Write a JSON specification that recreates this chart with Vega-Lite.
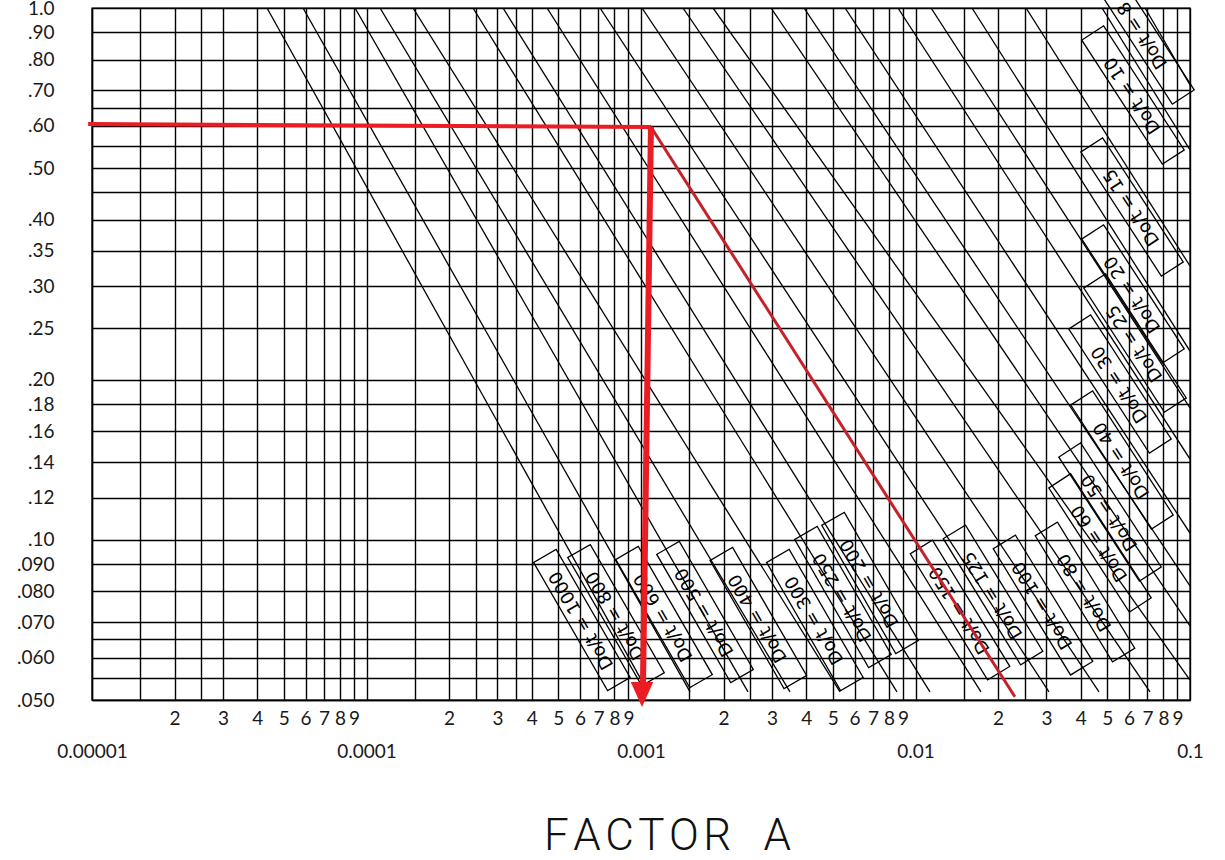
{
  "$schema": "https://vega.github.io/schema/vega-lite/v6.json",
  "width": 1098,
  "height": 692,
  "autosize": {"type": "none"},
  "padding": {"left": 92, "top": 8, "right": 35, "bottom": 160},
  "background": "white",
  "config": {"view": {"stroke": "black", "strokeWidth": 1.4}},
  "datasets": {
    "curves": [
      {"dt": "1000", "A": 4.34e-5, "LD": 1.0}, {"dt": "1000", "A": 1.060e-3, "LD": 0.0518},
      {"dt": "800", "A": 5.87e-5, "LD": 1.0}, {"dt": "800", "A": 1.509e-3, "LD": 0.0518},
      {"dt": "600", "A": 9.08e-5, "LD": 1.0}, {"dt": "600", "A": 2.453e-3, "LD": 0.0518},
      {"dt": "500", "A": 1.12e-4, "LD": 1.0}, {"dt": "500", "A": 3.489e-3, "LD": 0.0518},
      {"dt": "400", "A": 1.477e-4, "LD": 1.0}, {"dt": "400", "A": 5.309e-3, "LD": 0.0518},
      {"dt": "300", "A": 2.443e-4, "LD": 1.0}, {"dt": "300", "A": 8.56e-3, "LD": 0.0518},
      {"dt": "250", "A": 3.143e-4, "LD": 1.0}, {"dt": "250", "A": 0.01129, "LD": 0.0518},
      {"dt": "200", "A": 4.546e-4, "LD": 1.0}, {"dt": "200", "A": 0.01732, "LD": 0.0518},
      {"dt": "150", "A": 7.09e-4, "LD": 1.0}, {"dt": "150", "A": 0.03064, "LD": 0.0518},
      {"dt": "125", "A": 1.0083e-3, "LD": 1.0}, {"dt": "125", "A": 0.04661, "LD": 0.0518},
      {"dt": "100", "A": 1.422e-3, "LD": 1.0}, {"dt": "100", "A": 0.0715, "LD": 0.0518},
      {"dt": "80", "A": 1.830e-3, "LD": 1.0}, {"dt": "80", "A": 0.1, "LD": 0.0545},
      {"dt": "60", "A": 2.976e-3, "LD": 1.0}, {"dt": "60", "A": 0.1, "LD": 0.0689},
      {"dt": "50", "A": 3.925e-3, "LD": 1.0}, {"dt": "50", "A": 0.1, "LD": 0.0819},
      {"dt": "40", "A": 5.537e-3, "LD": 1.0}, {"dt": "40", "A": 0.1, "LD": 0.103},
      {"dt": "30", "A": 8.63e-3, "LD": 1.0}, {"dt": "30", "A": 0.1, "LD": 0.1419},
      {"dt": "25", "A": 0.01139, "LD": 1.0}, {"dt": "25", "A": 0.1, "LD": 0.177},
      {"dt": "20", "A": 0.01606, "LD": 1.0}, {"dt": "20", "A": 0.1, "LD": 0.2265},
      {"dt": "15", "A": 0.02527, "LD": 1.0}, {"dt": "15", "A": 0.1, "LD": 0.3273},
      {"dt": "10", "A": 0.04779, "LD": 1.0}, {"dt": "10", "A": 0.1, "LD": 0.5408},
      {"dt": "8", "A": 0.06858, "LD": 1.0}, {"dt": "8", "A": 0.1, "LD": 0.7166}
    ],
    "labels": [
      {"label": "Do/t = 1000", "g": "b", "A": 6.09e-4, "LD": 0.0707},
      {"label": "Do/t = 800", "g": "b", "A": 8.11e-4, "LD": 0.0722},
      {"label": "Do/t = 600", "g": "b", "A": 1.213e-3, "LD": 0.0716},
      {"label": "Do/t = 500", "g": "b", "A": 1.711e-3, "LD": 0.0732},
      {"label": "Do/t = 400", "g": "b", "A": 2.675e-3, "LD": 0.0713},
      {"label": "Do/t = 300", "g": "b", "A": 4.30e-3, "LD": 0.0707},
      {"label": "Do/t = 250", "g": "b", "A": 5.44e-3, "LD": 0.0781},
      {"label": "Do/t = 200", "g": "b", "A": 6.83e-3, "LD": 0.083},
      {"label": "Do/t = 150", "g": "m", "A": 0.01453, "LD": 0.0738},
      {"label": "Do/t = 125", "g": "m", "A": 0.01916, "LD": 0.0788},
      {"label": "Do/t = 100", "g": "m", "A": 0.02914, "LD": 0.0754},
      {"label": "Do/t = 80", "g": "m", "A": 0.04145, "LD": 0.0798},
      {"label": "Do/t = 60", "g": "r", "A": 0.047, "LD": 0.0987},
      {"label": "Do/t = 50", "g": "r", "A": 0.05112, "LD": 0.1128},
      {"label": "Do/t = 40", "g": "r", "A": 0.05653, "LD": 0.1413},
      {"label": "Do/t = 30", "g": "r", "A": 0.05559, "LD": 0.1964},
      {"label": "Do/t = 25", "g": "r", "A": 0.06305, "LD": 0.2345},
      {"label": "Do/t = 20", "g": "r", "A": 0.06199, "LD": 0.29},
      {"label": "Do/t = 15", "g": "r", "A": 0.06148, "LD": 0.4225},
      {"label": "Do/t = 10", "g": "r", "A": 0.06199, "LD": 0.686},
      {"label": "Do/t = 8", "g": "r", "A": 0.0674, "LD": 0.89}
    ],
    "redH": [{"A": 9.68e-6, "LD": 0.605}, {"A": 1.087e-3, "LD": 0.5975}],
    "redV": [{"A": 1.087e-3, "LD": 0.5975}, {"A": 1.0169e-3, "LD": 0.0534}],
    "redD": [{"A": 1.087e-3, "LD": 0.5975}, {"A": 0.02302, "LD": 0.0507}],
    "arrow": [{"A": 1.0084e-3, "LD": 0.0512}]
  },
  "encoding": {
    "x": {
      "field": "A", "type": "quantitative",
      "scale": {"type": "log", "domain": [0.00001, 0.1], "nice": false},
      "axis": {
        "values": [0.00001, 1.5e-5, 2e-5, 2.5e-5, 3e-5, 4e-5, 5e-5, 6e-5, 7e-5, 8e-5, 9e-5,
                   0.0001, 1.5e-4, 2e-4, 2.5e-4, 3e-4, 3.5e-4, 4e-4, 5e-4, 6e-4, 7e-4, 8e-4, 9e-4,
                   0.001, 1.5e-3, 2e-3, 2.5e-3, 3e-3, 4e-3, 5e-3, 6e-3, 7e-3, 8e-3, 9e-3,
                   0.01, 0.015, 0.02, 0.025, 0.03, 0.04, 0.05, 0.06, 0.07, 0.08, 0.09, 0.1],
        "labelExpr": "format(datum.value,'.1e')=='1.0e-5' ? ['','0.00001'] : format(datum.value,'.1e')=='1.0e-4' ? ['','0.0001'] : format(datum.value,'.1e')=='1.0e-3' ? ['','0.001'] : format(datum.value,'.1e')=='1.0e-2' ? ['','0.01'] : format(datum.value,'.1e')=='1.0e-1' ? ['','0.1'] : substring(format(datum.value,'.1e'),1,3)=='.0' ? substring(format(datum.value,'.1e'),0,1) : ''",
        "grid": true, "gridColor": "black", "gridWidth": 1.4, "gridOpacity": 1,
        "ticks": false, "domain": true, "domainColor": "black", "domainWidth": 1.4,
        "labelFont": "Lato", "labelFontSize": 19, "labelColor": "#1a1a1a",
        "labelPadding": 9, "labelLineHeight": 33, "labelBaseline": "top",
        "labelOverlap": false, "labelFlush": false, "labelBound": false,
        "title": "F\u200aA\u200aC\u200aT\u200aO\u200aR\u00a0\u00a0\u00a0A", "titleFont": "Roboto", "titleFontWeight": 300,
        "titleFontSize": 44, "titleColor": "#111111", "titleX": 575, "titleY": 136,
        "titleBaseline": "middle", "titleAlign": "center"
      }
    },
    "y": {
      "field": "LD", "type": "quantitative",
      "scale": {"type": "log", "domain": [0.05, 1.0], "nice": false},
      "axis": {
        "values": [0.05, 0.055, 0.06, 0.065, 0.07, 0.08, 0.09, 0.1, 0.12, 0.14, 0.16, 0.18, 0.2, 0.25, 0.3, 0.35, 0.4, 0.45, 0.5, 0.55, 0.6, 0.65, 0.7, 0.8, 0.9, 1.0],
        "labelExpr": "datum.value > 0.99 ? '1.0' : (abs(datum.value-0.055)<1e-6 || abs(datum.value-0.065)<1e-6 || abs(datum.value-0.45)<1e-6 || abs(datum.value-0.55)<1e-6 || abs(datum.value-0.65)<1e-6) ? '' : datum.value < 0.0999 ? substring(format(datum.value,'.3f'),1) : substring(format(datum.value,'.2f'),1)",
        "grid": true, "gridColor": "black", "gridWidth": 1.4, "gridOpacity": 1,
        "ticks": false, "domain": true, "domainColor": "black", "domainWidth": 1.4,
        "labelFont": "Lato", "labelFontSize": 19, "labelColor": "#1a1a1a",
        "labelPadding": 38, "labelOverlap": false, "labelFlush": false, "labelBound": false,
        "title": null
      }
    }
  },
  "layer": [
    {
      "data": {"name": "curves"},
      "mark": {"type": "line", "color": "black", "strokeWidth": 1.3, "clip": true},
      "encoding": {"detail": {"field": "dt", "type": "nominal"}}
    },
    {
      "data": {"name": "labels"},
      "mark": {"type": "point", "shape": "M-1,-0.176L1,-0.176L1,0.176L-1,0.176Z", "size": 21904, "filled": false, "stroke": "black", "strokeWidth": 1.3, "opacity": 1},
      "encoding": {
        "angle": {"field": "g", "type": "nominal", "scale": {"domain": ["b", "m", "r"], "range": [60, 57, 52]}, "legend": null}
      }
    },
    {
      "data": {"name": "labels"},
      "mark": {"type": "text", "font": "DejaVu Sans", "fontSize": 18, "color": "black", "align": "center", "baseline": "middle"},
      "encoding": {
        "angle": {"field": "g", "type": "nominal", "scale": {"domain": ["b", "m", "r"], "range": [240, 237, 232]}, "legend": null},
        "text": {"field": "label", "type": "nominal"}
      }
    },
    {
      "data": {"name": "redH"},
      "mark": {"type": "line", "color": "#ec1c24", "strokeWidth": 4}
    },
    {
      "data": {"name": "redD"},
      "mark": {"type": "line", "color": "#c4212b", "strokeWidth": 3}
    },
    {
      "data": {"name": "redV"},
      "mark": {"type": "line", "color": "#ec1c24", "strokeWidth": 6}
    },
    {
      "data": {"name": "arrow"},
      "mark": {"type": "point", "shape": "M-0.9,-1L0.9,-1L0,1Z", "size": 625, "filled": true, "color": "#ec1c24", "opacity": 1}
    }
  ],
  "resolve": {"scale": {"angle": "independent"}}
}
